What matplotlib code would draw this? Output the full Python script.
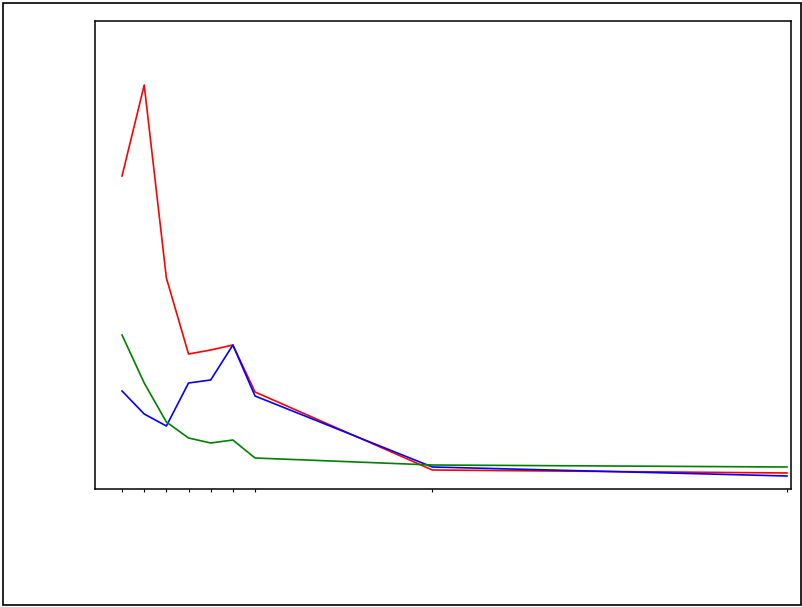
import numpy as np
import matplotlib
matplotlib.use("Agg")
import matplotlib.pyplot as plt
from matplotlib.patches import Rectangle

# x positions of the samples
x = [1, 2, 3, 4, 5, 6, 7, 15, 31]

# series values (arbitrary units)
red = [3.13, 4.04, 2.11, 1.35, 1.39, 1.44, 0.97, 0.19, 0.16]
blue = [0.98, 0.75, 0.63, 1.06, 1.09, 1.44, 0.93, 0.22, 0.13]
green = [1.54, 1.06, 0.67, 0.51, 0.46, 0.49, 0.31, 0.24, 0.22]

fig = plt.figure(figsize=(8.03, 6.07), dpi=100)
fig.patches.append(Rectangle((3.5 / 803, 2.5 / 607), 797.5 / 803, 602 / 607,
                             transform=fig.transFigure, fill=False,
                             edgecolor="black", linewidth=1.2))

ax = fig.add_axes([95 / 803, (607 - 489) / 607, (791 - 95) / 803, (489 - 21) / 607])
ax.plot(x, red, color="red", linewidth=1.2)
ax.plot(x, blue, color="blue", linewidth=1.2)
ax.plot(x, green, color="green", linewidth=1.2)

ax.set_xlim(-0.22, 31.18)
ax.set_ylim(0, 4.68)
ax.set_xticks(x)
ax.set_xticklabels([])
ax.set_yticks([])
ax.tick_params(axis="x", direction="out", length=2, width=0.8)
for spine in ax.spines.values():
    spine.set_linewidth(1.1)

fig.savefig("out.png", dpi=100)
